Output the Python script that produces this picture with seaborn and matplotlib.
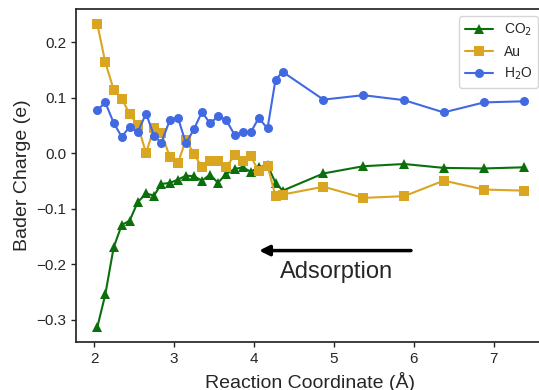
import matplotlib
matplotlib.use("Agg")
import matplotlib.pyplot as plt
import pandas as pd
import seaborn as sns

# reaction coordinate (Angstrom)
coord = [2.04, 2.14, 2.245, 2.345, 2.445, 2.545, 2.65, 2.75, 2.84, 2.95,
         3.05, 3.15, 3.25, 3.35, 3.45, 3.55, 3.65, 3.76, 3.86, 3.96,
         4.06, 4.17, 4.27, 4.36, 4.87, 5.37, 5.88, 6.375, 6.88, 7.375]

co2 = [-0.313, -0.254, -0.169, -0.129, -0.121, -0.088, -0.072, -0.076, -0.055, -0.053,
       -0.047, -0.040, -0.041, -0.049, -0.038, -0.053, -0.037, -0.028, -0.025, -0.033,
       -0.025, -0.021, -0.053, -0.067, -0.036, -0.023, -0.019, -0.026, -0.027, -0.025]

au = [0.233, 0.164, 0.115, 0.099, 0.071, 0.051, 0.001, 0.046, 0.037, -0.007,
      -0.017, 0.025, -0.001, -0.025, -0.013, -0.013, -0.025, -0.003, -0.013, -0.005,
      -0.032, -0.022, -0.077, -0.074, -0.060, -0.080, -0.077, -0.049, -0.065, -0.067]

h2o = [0.078, 0.092, 0.055, 0.030, 0.048, 0.038, 0.072, 0.032, 0.019, 0.061,
       0.064, 0.018, 0.044, 0.075, 0.054, 0.067, 0.061, 0.033, 0.038, 0.038,
       0.064, 0.045, 0.133, 0.147, 0.097, 0.105, 0.096, 0.074, 0.092, 0.094]

series = [("CO$_2$", co2, "#0b700b", "^"),
          ("Au", au, "goldenrod", "s"),
          ("H$_2$O", h2o, "royalblue", "o")]

sns.set_theme(style="ticks")
plt.rcParams["font.family"] = ["Liberation Sans", "DejaVu Sans"]

fig = plt.figure(figsize=(5.39, 3.9), dpi=100)
ax = fig.add_axes([0.141, 0.1223, 0.870, 0.8546])

for name, vals, color, marker in series:
    df = pd.DataFrame({"x": coord, "y": vals})
    sns.lineplot(data=df, x="x", y="y", ax=ax, color=color, marker=marker,
                 markersize=6.5, markeredgewidth=0, linewidth=1.5,
                 sort=False, label=name)

ax.annotate("", xy=(4.03, -0.175), xytext=(6.0, -0.175),
            arrowprops=dict(arrowstyle="-|>,head_length=0.5,head_width=0.25",
                            lw=2.5, color="black"))
ax.text(5.03, -0.214, "Adsorption", ha="center", va="center", fontsize=17)

ax.set_xlabel("Reaction Coordinate (Å)", fontsize=14)
ax.set_ylabel("Bader Charge (e)", fontsize=14)
ax.tick_params(labelsize=11, length=3.5, width=1)
ax.set_yticks([-0.3, -0.2, -0.1, 0.0, 0.1, 0.2])
ax.legend(loc="upper right", fontsize=10)

fig.savefig("out.png", dpi=100)
